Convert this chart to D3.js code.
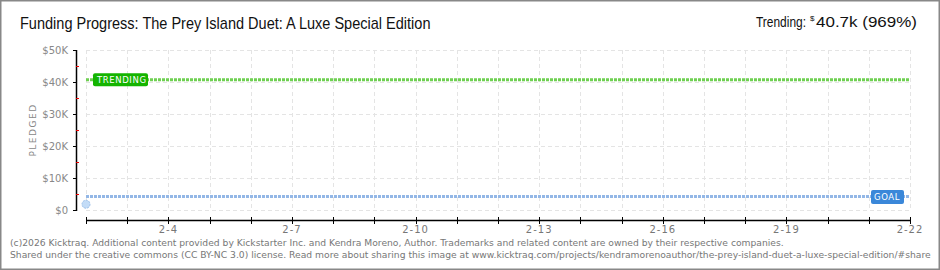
<!DOCTYPE html>
<html>
<head>
<meta charset="utf-8">
<script src="https://cdn.jsdelivr.net/npm/d3@7"></script>
<style>
  body { margin: 0; background: #fff; }
  svg { display: block; }
</style>
</head>
<body>
<div id="chart"></div>
<script>
// chart values
const titleText = "Funding Progress: The Prey Island Duet: A Luxe Special Edition";
const trendingLabel = "Trending:";
const trendingValue = "$40.7k (969%)";
const startDate = "2026-02-02";
const endDate = "2026-02-22";
const yTicks = [0, 10000, 20000, 30000, 40000, 50000];
const yMinorTicks = [5000, 15000, 25000, 35000, 45000];
const xLabelDates = ["2026-02-04", "2026-02-07", "2026-02-10", "2026-02-13", "2026-02-16", "2026-02-19", "2026-02-22"];
const goal = 4200;
const trending = 40700;
const pledgedDates = ["2026-02-02"];
const pledgedValues = [1800];
const footerLines = [
  "(c)2026 Kicktraq. Additional content provided by Kickstarter Inc. and Kendra Moreno, Author. Trademarks and related content are owned by their respective companies.",
  "Shared under the creative commons (CC BY-NC 3.0) license. Read more about sharing this image at www.kicktraq.com/projects/kendramorenoauthor/the-prey-island-duet-a-luxe-special-edition/#share"
];

// squeeze a text horizontally so that it spans the wanted width
function FitText(sel, x, y, wantWidth) {
    const w = sel.node().getComputedTextLength();
    sel.attr("transform", `translate(${x},${y}) scale(${wantWidth / w},1)`);
}

function DrawChart() {
    const width = 940, height = 270;
    const plot = { left: 86, right: 910, top: 50, bottom: 210 };
    const parse = d3.utcParse("%Y-%m-%d");

    const svg = d3.select("#chart").append("svg")
        .attr("width", width)
        .attr("height", height);

    // frame
    svg.append("rect")
        .attr("x", 0.5).attr("y", 0.5)
        .attr("width", width - 1).attr("height", height - 1)
        .attr("fill", "#fff")
        .attr("stroke", "#888")
        .attr("stroke-width", 2);

    const x = d3.scaleUtc()
        .domain([parse(startDate), parse(endDate)])
        .range([plot.left, plot.right]);
    const y = d3.scaleLinear()
        .domain([0, 50000])
        .range([plot.bottom, plot.top]);

    const days = d3.utcDay.range(parse(startDate), d3.utcDay.offset(parse(endDate), 1));

    // grid
    const grid = svg.append("g")
        .attr("stroke", "#e4e4e4")
        .attr("stroke-dasharray", "4,3")
        .attr("stroke-width", 1);
    grid.selectAll("line.v")
        .data(days)
        .join("line")
        .attr("class", "v")
        .attr("x1", d => Math.round(x(d)) + 0.5)
        .attr("x2", d => Math.round(x(d)) + 0.5)
        .attr("y1", plot.top)
        .attr("y2", plot.bottom);
    grid.selectAll("line.h")
        .data(yTicks)
        .join("line")
        .attr("class", "h")
        .attr("x1", plot.left)
        .attr("x2", plot.right)
        .attr("y1", d => Math.round(y(d)) + 0.5)
        .attr("y2", d => Math.round(y(d)) + 0.5);

    // y axis
    const yAxis = svg.append("g");
    yAxis.append("line")
        .attr("x1", 76.5).attr("x2", 76.5)
        .attr("y1", plot.top).attr("y2", plot.bottom + 1)
        .attr("stroke", "#000").attr("stroke-width", 1.5);
    yAxis.selectAll("line.major")
        .data(yTicks)
        .join("line")
        .attr("class", "major")
        .attr("x1", 73).attr("x2", 77)
        .attr("y1", d => Math.round(y(d)) + 0.5)
        .attr("y2", d => Math.round(y(d)) + 0.5)
        .attr("stroke", "#000");
    yAxis.selectAll("line.minor")
        .data(yMinorTicks)
        .join("line")
        .attr("class", "minor")
        .attr("x1", 76).attr("x2", 79)
        .attr("y1", d => Math.round(y(d)) + 0.5)
        .attr("y2", d => Math.round(y(d)) + 0.5)
        .attr("stroke", "#e00");
    yAxis.selectAll("text")
        .data(yTicks)
        .join("text")
        .attr("x", 68)
        .attr("y", d => y(d))
        .attr("dy", "0.35em")
        .attr("text-anchor", "end")
        .attr("font-family", "DejaVu Sans")
        .attr("font-size", 10)
        .attr("fill", "#888")
        .text(d => d === 0 ? "$0" : "$" + (d / 1000) + "K");

    svg.append("text")
        .attr("transform", `translate(33, ${(plot.top + plot.bottom) / 2}) rotate(-90)`)
        .attr("text-anchor", "middle")
        .attr("dy", "0.35em")
        .attr("font-family", "DejaVu Sans")
        .attr("font-size", 9)
        .attr("letter-spacing", 1.5)
        .attr("fill", "#888")
        .text("PLEDGED");

    // x axis
    const xAxis = svg.append("g");
    xAxis.append("line")
        .attr("x1", plot.left).attr("x2", plot.right + 1)
        .attr("y1", 220.5).attr("y2", 220.5)
        .attr("stroke", "#000").attr("stroke-width", 1.5);
    xAxis.selectAll("line.tick")
        .data(days)
        .join("line")
        .attr("class", "tick")
        .attr("x1", d => Math.round(x(d)) + 0.5)
        .attr("x2", d => Math.round(x(d)) + 0.5)
        .attr("y1", 217).attr("y2", 224)
        .attr("stroke", "#000");
    xAxis.selectAll("text")
        .data(xLabelDates.map(parse))
        .join("text")
        .attr("x", d => x(d))
        .attr("y", 229)
        .attr("dy", "0.35em")
        .attr("text-anchor", "middle")
        .attr("font-family", "DejaVu Sans")
        .attr("font-size", 10)
        .attr("letter-spacing", 1)
        .attr("fill", "#777")
        .text(d => d3.utcFormat("%-m-%-d")(d));

    // goal and trending lines
    svg.append("line")
        .attr("x1", plot.left).attr("x2", plot.right)
        .attr("y1", y(goal)).attr("y2", y(goal))
        .attr("stroke", "#93b7e6")
        .attr("stroke-width", 3)
        .attr("stroke-dasharray", "3,1");
    svg.append("line")
        .attr("x1", plot.left).attr("x2", plot.right)
        .attr("y1", y(trending)).attr("y2", y(trending))
        .attr("stroke", "#6fd052")
        .attr("stroke-width", 3)
        .attr("stroke-dasharray", "3,1");

    // labels
    const trendLab = svg.append("g").attr("transform", `translate(93, ${y(trending) - 6.5})`);
    trendLab.append("rect")
        .attr("width", 55).attr("height", 13).attr("rx", 2)
        .attr("fill", "#14b400");
    trendLab.append("text")
        .attr("x", 4).attr("y", 6.5).attr("dy", "0.35em")
        .attr("font-family", "DejaVu Sans")
        .attr("font-size", 8.5)
        .attr("letter-spacing", 0.6)
        .attr("fill", "#fff")
        .text("TRENDING");

    const goalLab = svg.append("g").attr("transform", `translate(871, ${y(goal) - 6.5})`);
    goalLab.append("rect")
        .attr("width", 33).attr("height", 14).attr("rx", 2)
        .attr("fill", "#3a87d9");
    goalLab.append("text")
        .attr("x", 3).attr("y", 7).attr("dy", "0.35em")
        .attr("font-family", "DejaVu Sans")
        .attr("font-size", 8.5)
        .attr("letter-spacing", 0.6)
        .attr("fill", "#fff")
        .text("GOAL");

    // pledged points
    svg.selectAll("circle.pt")
        .data(pledgedDates.map((d, i) => ({ date: parse(d), value: pledgedValues[i] })))
        .join("circle")
        .attr("class", "pt")
        .attr("cx", d => x(d.date))
        .attr("cy", d => y(d.value))
        .attr("r", 4)
        .attr("fill", "#c3dcf7")
        .attr("stroke", "#9fc2ea")
        .attr("stroke-dasharray", "2,1");

    // title
    const title = svg.append("text")
        .attr("font-family", "Liberation Sans, sans-serif")
        .attr("font-size", 16)
        .attr("fill", "#111")
        .text(titleText);
    FitText(title, 20, 29, 411);

    // trending headline, split in three texts so the small dollar sign sits raised
    const head = svg.append("g")
        .attr("font-family", "Liberation Sans, sans-serif")
        .attr("fill", "#111");
    const headLabel = head.append("text")
        .attr("font-size", 15)
        .text(trendingLabel);
    FitText(headLabel, 756, 27, 50);
    head.append("text")
        .attr("x", 810).attr("y", 21)
        .attr("font-size", 8)
        .text(trendingValue.slice(0, 1));
    const headValue = head.append("text")
        .attr("font-size", 15)
        .text(trendingValue.slice(1));
    FitText(headValue, 816, 27, 101);

    // footer
    svg.selectAll("text.footer")
        .data(footerLines)
        .join("text")
        .attr("class", "footer")
        .attr("x", 10)
        .attr("y", (d, i) => 246 + i * 12)
        .attr("font-family", "DejaVu Sans")
        .attr("font-size", 9.2)
        .attr("fill", "#777")
        .text(d => d);

    return svg.node();
}

DrawChart();
</script>
</body>
</html>
